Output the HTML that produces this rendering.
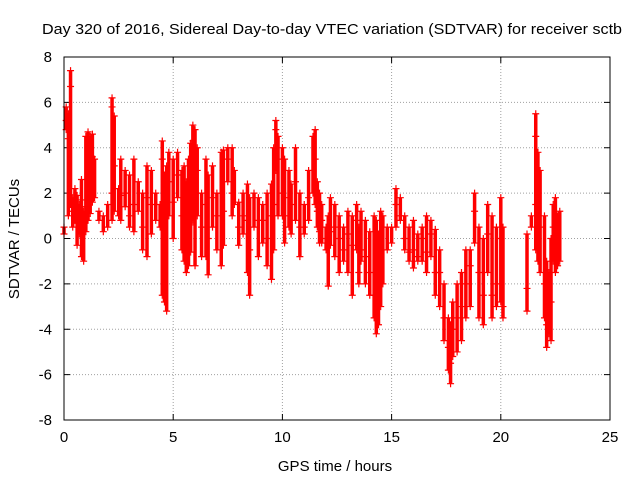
<!DOCTYPE html>
<html><head><meta charset="utf-8"><style>
body{margin:0;background:#fff}
svg{font-family:"Liberation Sans",sans-serif;font-size:15px}
</style></head><body>
<svg width="640" height="480" id="chart">
<rect x="0" y="0" width="640" height="480" fill="#fff"/>
<text x="42" y="34" textLength="580" lengthAdjust="spacingAndGlyphs">Day 320 of 2016, Sidereal Day-to-day VTEC variation (SDTVAR) for receiver sctb</text>
<text x="335" y="471" text-anchor="middle">GPS time / hours</text>
<text transform="translate(19,239) rotate(-90)" text-anchor="middle">SDTVAR / TECUs</text>
<g id="grid"></g><g id="marks"></g>
<rect x="64" y="57" width="546" height="363" fill="none" stroke="#000"/>
</svg>
<script>
const xTicks=[0,5,10,15,20,25];
const yTicks=[-8,-6,-4,-2,0,2,4,6,8];
const times=[0,0.1,0.2,0.3,0.4,0.5,0.6,0.7,0.8,0.9,1.0,1.1,1.2,1.3,1.4,1.6,1.8,2.0,2.2,2.3,2.5,2.6,2.8,3.0,3.2,3.4,3.6,3.8,4.0,4.2,4.4,4.5,4.6,4.7,4.8,5.0,5.2,5.4,5.5,5.6,5.7,5.8,5.9,6.0,6.1,6.3,6.5,6.6,6.8,7.0,7.2,7.3,7.5,7.7,7.8,8.0,8.2,8.4,8.5,8.7,8.9,9.1,9.3,9.5,9.6,9.7,9.8,10.0,10.1,10.3,10.4,10.6,10.8,11.0,11.2,11.4,11.5,11.6,11.7,11.8,12.0,12.1,12.2,12.4,12.6,12.8,13.0,13.2,13.4,13.5,13.6,13.8,14.0,14.2,14.3,14.4,14.5,14.6,14.8,15.0,15.2,15.4,15.6,15.8,16.0,16.2,16.4,16.6,16.8,17.0,17.2,17.4,17.6,17.7,17.8,18.0,18.2,18.4,18.6,18.8,19.0,19.2,19.4,19.6,19.8,20.0,20.1,21.2,21.4,21.6,21.7,21.8,22.0,22.1,22.2,22.3,22.4,22.5,22.6,22.7];
const values=[[0.2,0.5],[5.8,5.2,4.8],[5.5,4.4,1.0],[7.4,6.7,1.5],[1.8,1.2,0.5],[1.6,0.8,2.2],[1.3,-0.3,1.9],[1.0,0.2,1.5],[1.7,2.6,-0.8],[1.2,0.5,-1.0],[4.5,1.4,0.3],[4.7,4.2,0.8],[4.5,3.0,1.1],[4.6,3.6,1.6],[3.5,1.8],[0.8,1.2],[1.0,0.3],[0.5,1.5],[6.2,5.8,2.0,0.8],[5.4,3.2,1.2],[2.2,1.0],[3.5,0.8,1.9],[3.0,2.0,1.4],[2.8,1.0,0.5],[3.5,1.5,0.3],[2.5,1.2],[2.0,0.5,-0.5],[3.2,1.8,-0.8],[3.0,1.5,0.2],[2.0,0.8],[1.5,0.5],[4.3,3.5,-2.5],[-1.8,-2.8,2.8],[3.2,-3.2,2.0],[3.8,2.5,1.0],[3.5,1.6,0.0],[3.8,2.8,1.8],[3.0,1.0,-0.5],[3.2,0.5,-1.0],[2.5,0.2,-1.5],[1.5,-1.2,3.5],[-0.6,0.6,4.2],[5.0,4.3,0.8],[4.8,2.0,-1.2],[4.0,1.0,3.0],[2.0,-0.8,0.5],[3.5,1.5,-0.8],[2.8,0.0,-1.6],[3.2,1.8,0.5],[2.0,-0.5,1.0],[3.8,2.0,-1.2],[3.9,1.2,-0.3],[4.0,3.5,2.5],[4.0,2.0,1.0],[3.0,1.5],[1.6,0.5,-0.3],[2.0,1.0,0.2],[2.4,0.8,-1.5],[1.8,-2.5,-0.5],[2.0,0.5],[1.8,0.8,-0.8],[1.5,-0.2,0.8],[2.0,0.0,-1.2],[2.4,1.0,-1.8],[4.0,1.5,-0.5],[5.2,4.8,3.0],[4.5,3.5,1.0],[4.0,2.0,1.0],[3.5,1.8,-0.2],[3.0,1.0,0.5],[2.4,0.2,1.5],[4.0,2.5,0.8],[2.0,0.5,-0.8],[1.5,0.2,0.5],[3.0,1.8,0.8],[4.5,3.0,2.0],[4.8,3.5,1.5],[2.5,1.2,0.5],[2.0,0.3,-0.2],[1.5,-0.2,0.8],[0.5,0.0,-0.5],[1.0,-2.1],[1.8,0.3,-0.3],[1.5,0.5,-0.8],[1.0,0.0,-1.5],[0.5,-0.5,-1.0],[1.2,0.2,-1.5],[1.0,-0.3,-2.5],[1.5,0.8,-0.5],[0.5,-1.5,-2.0],[1.2,-0.5,-1.0],[0.8,-0.8,-2.0],[0.3,-1.5,-2.5],[1.0,-2.5,-3.5],[0.8,-3.0,-4.2],[0.2,-2.0,-3.8],[1.2,-1.0,-3.0],[1.0,-2.0],[0.5,-0.5],[0.5,-0.2],[2.2,1.5,0.5],[1.8,1.0,0.8],[1.0,0.0,-0.5],[0.5,-0.6,-1.0],[0.8,-0.5,-1.3],[0.2,-0.8,-1.0],[0.5,-1.0,0.0],[1.0,-0.6,-1.5],[0.8,0.2,-0.8],[0.4,-1.5,-2.5],[-0.5,-1.5,-3.0],[-2.0,-3.5,-4.5],[-3.5,-4.8,-5.8],[-3.8,-5.5,-6.4],[-2.8,-4.0,-5.2],[-2.0,-3.5,-5.0],[-1.5,-3.0,-4.5],[-0.5,-2.0,-3.5],[-0.5,-1.2,-3.0],[2.0,1.2,-0.2],[0.5,-1.5,-3.5],[0.0,-2.5,-3.8],[1.5,0.2,-1.5],[1.0,-2.5,-3.5],[0.5,-2.0,-3.0],[1.8,0.0,-2.8],[0.5,-3.0,-3.5],[0.2,-2.2,-3.2],[1.0,0.5],[5.5,4.5,1.5,-0.5],[3.8,1.0,-1.0],[3.0,0.5,-1.5],[1.0,-2.0,-3.5],[-1.0,-3.8,-4.8],[-1.5,-3.5,-4.2],[0.0,-2.8,-4.5],[1.5,0.5,-1.0],[1.8,0.8,-1.5],[1.0,-0.8,-1.2],[1.2,-1.0]];
const NS="http://www.w3.org/2000/svg";
const L=64,R=610,T=57,B=420;
function xs(v){return L+(v-0)/25*(R-L);}
function ys(v){return B-(v+8)/16*(B-T);}
function mk(tag,attrs,parent){const e=document.createElementNS(NS,tag);for(const k in attrs)e.setAttribute(k,attrs[k]);parent.appendChild(e);return e;}
const grid=document.getElementById('grid'),marks=document.getElementById('marks');
xTicks.forEach(t=>{const x=xs(t);
 if(t>0&&t<25){const g=mk('line',{x1:x,x2:x,y1:T,y2:B,stroke:'#a0a0a0','stroke-dasharray':'1,2'},grid);
 
 }
 mk('line',{x1:x,x2:x,y1:B,y2:B-6,stroke:'#000'},grid);mk('line',{x1:x,x2:x,y1:T,y2:T+6,stroke:'#000'},grid);
 const tx=mk('text',{x:x,y:B+22,'text-anchor':'middle'},grid);tx.textContent=t;
 
 });
yTicks.forEach(t=>{const y=ys(t);
 if(t>-8&&t<8){const g=mk('line',{x1:L,x2:R,y1:y,y2:y,stroke:'#a0a0a0','stroke-dasharray':'1,2'},grid);
 
 }
 mk('line',{x1:L,x2:L+6,y1:y,y2:y,stroke:'#000'},grid);mk('line',{x1:R,x2:R-6,y1:y,y2:y,stroke:'#000'},grid);
 const tx=mk('text',{x:L-12,y:y+5,'text-anchor':'end'},grid);tx.textContent=t;
 
 });
times.forEach((t,i)=>{const vs=values[i];const x=xs(t);
 const mn=Math.min(...vs),mx=Math.max(...vs);
 const ln=mk('line',{x1:x,x2:x,y1:ys(mn),y2:ys(mx),stroke:'#f00','stroke-width':3.5},marks);
 
 
 vs.forEach(v=>{const y=ys(v);
  const p=mk('path',{d:`M${x-3.5},${y}h7M${x},${y-3.5}v7`,stroke:'#f00','stroke-width':1.2},marks);
  
  });});
</script>
</body></html>
